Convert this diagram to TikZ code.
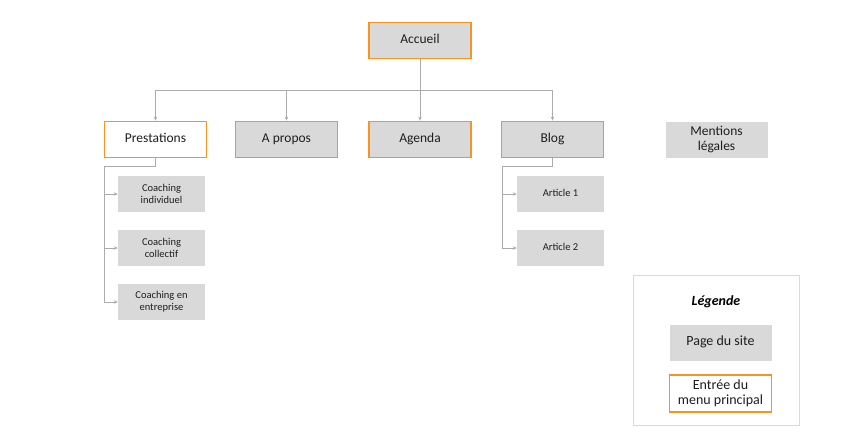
\documentclass[tikz,border=0pt]{standalone}
\usepackage{fontspec}
\setmainfont{Carlito}
\usetikzlibrary{arrows.meta}
\definecolor{pagegray}{HTML}{D9D9D9}
\definecolor{menuorange}{HTML}{F7931E}
\definecolor{linkgray}{HTML}{ABABAB}
\definecolor{textgray}{HTML}{1E1E1E}
\begin{document}
\begin{tikzpicture}[
  x=1pt, y=-1pt,
  every node/.style={align=center, text=textgray, inner sep=0pt},
  page/.style={fill=pagegray, minimum width=102pt, minimum height=36pt, font=\fontsize{13.5}{15}\selectfont},
  menu/.style={draw=menuorange, line width=1.8pt},
  sub/.style={fill=pagegray, minimum width=87pt, minimum height=36pt, font=\fontsize{10.5}{12}\selectfont},
  oneline/.style={text height=1.6ex, text depth=0.5ex},
  link/.style={draw=linkgray, line width=0.7pt, -{Stealth[length=4pt, width=3.5pt]}}
]
  \useasboundingbox (0,0) rectangle (850,433);

  \node[page, menu, oneline] (accueil) at (420, 40.5) {Accueil};

  \node[page, menu, oneline, fill=white] (prestations) at (155.5, 139.5) {Prestations};
  \node[page, menu, oneline] (apropos) at (286.5, 139.5) {A propos};
  \node[page, menu, oneline] (agenda) at (420, 139.5) {Agenda};
  \node[page, menu, oneline] (blog) at (552.5, 139.5) {Blog};
  \node[page] (mentions) at (716.5, 139.5) {Mentions\\légales};

  \node[sub] (coachind) at (161.5, 194) {Coaching\\individuel};
  \node[sub] (coachcol) at (161.5, 248) {Coaching\\collectif};
  \node[sub] (coachent) at (161.5, 302) {Coaching en\\entreprise};

  \node[sub, oneline] (art1) at (560.5, 194) {Article 1};
  \node[sub, oneline] (art2) at (560.5, 248) {Article 2};

  % menu principal
  \coordinate (bus) at (420, 90);
  \draw[link] (accueil.south) |- (bus) -| (prestations.north);
  \draw[link] (bus) -| (apropos.north);
  \draw[link] (accueil.south) -- (agenda.north);
  \draw[link] (bus) -| (blog.north);

  % sous-pages
  \coordinate (ptrunk) at (104, 166);
  \draw[link] (prestations.south) |- (ptrunk) |- (coachind.west);
  \draw[link] (ptrunk) |- (coachcol.west);
  \draw[link] (ptrunk) |- (coachent.west);

  \coordinate (btrunk) at (502, 166);
  \draw[link] (blog.south) |- (btrunk) |- (art1.west);
  \draw[link] (btrunk) |- (art2.west);

  % legende
  \draw[draw=pagegray, line width=0.7pt] (633, 275) rectangle (799, 425);
  \node[font=\fontsize{14}{15}\selectfont\bfseries\itshape, text=black] (legende) at (716, 302) {Légende};
  \node[page, oneline, font=\fontsize{14}{15.5}\selectfont] (legpage) at (720.5, 342.5) {Page du site};
  \node[page, menu, fill=white, minimum height=37pt, font=\fontsize{14}{15.5}\selectfont] (legmenu) at (720.5, 393.5) {Entrée du\\menu principal};
\end{tikzpicture}
\end{document}
